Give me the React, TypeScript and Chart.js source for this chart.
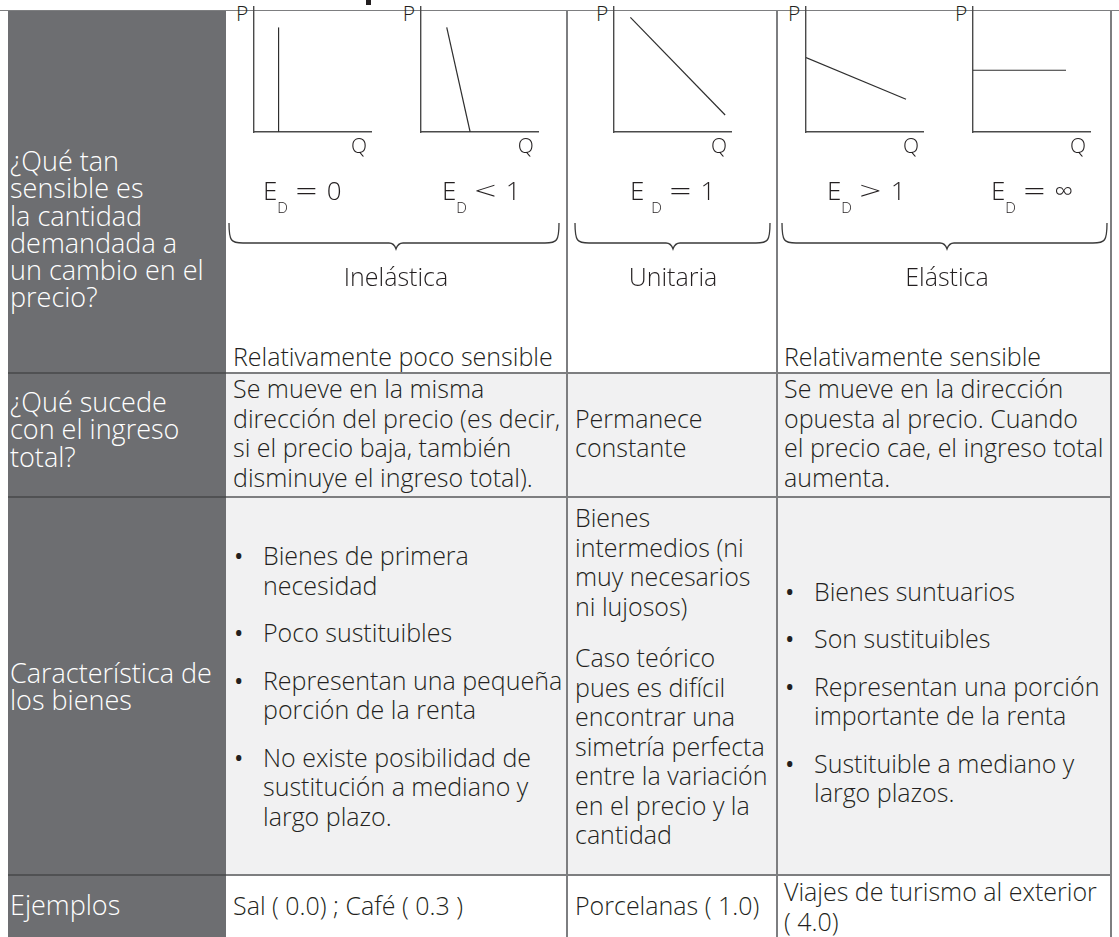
import React, { useEffect, useRef } from "react";
import { Chart, registerables } from "chart.js";

Chart.register(...registerables);

type Pt = { x: number; y: number };

// ---------------- DATA ----------------
// demand curves (P on y, Q on x), axis range 0..10
const curvaEd0: Pt[] = [{ x: 2.1, y: 0 }, { x: 2.1, y: 8.3 }];
const curvaEdMenor1: Pt[] = [{ x: 2.2, y: 8.3 }, { x: 4.2, y: 0 }];
const curvaEd1: Pt[] = [{ x: 1.4, y: 9.1 }, { x: 9.5, y: 1.35 }];
const curvaEdMayor1: Pt[] = [{ x: 0, y: 5.9 }, { x: 8.55, y: 2.6 }];
const curvaEdInf: Pt[] = [{ x: 0, y: 4.9 }, { x: 7.95, y: 4.9 }];
const curvas: Pt[][] = [curvaEd0, curvaEdMenor1, curvaEd1, curvaEdMayor1, curvaEdInf];

const ejeP = "P";
const ejeQ = "Q";
const operadores = ["=", "<", "=", ">", "="];
const valoresEd = ["0", "1", "1", "1", "\u221E"];

const categorias = ["Inelástica", "Unitaria", "Elástica"];
const sensibilidad = ["Relativamente poco sensible", "", "Relativamente sensible"];

const encabezados: string[][] = [
  ["¿Qué tan", "sensible es", "la cantidad", "demandada a", "un cambio en el", "precio?"],
  ["¿Qué sucede", "con el ingreso", "total?"],
  ["Característica de", "los bienes"],
  ["Ejemplos"],
];

const ingresoInelastica = [
  "Se mueve en la misma",
  "dirección del precio (es decir,",
  "si el precio baja, también",
  "disminuye el ingreso total).",
];
const ingresoUnitaria = ["Permanece", "constante"];
const ingresoElastica = [
  "Se mueve en la dirección",
  "opuesta al precio. Cuando",
  "el precio cae, el ingreso total",
  "aumenta.",
];

const bienesInelasticos: string[][] = [
  ["Bienes de primera", "necesidad"],
  ["Poco sustituibles"],
  ["Representan una pequeña", "porción de la renta"],
  ["No existe posibilidad de", "sustitución a mediano y", "largo plazo."],
];
const bienesUnitarios: string[][] = [
  ["Bienes", "intermedios (ni", "muy necesarios", "ni lujosos)"],
  ["Caso teórico", "pues es difícil", "encontrar una", "simetría perfecta", "entre la variación", "en el precio y la", "cantidad"],
];
const bienesElasticos: string[][] = [
  ["Bienes suntuarios"],
  ["Son sustituibles"],
  ["Representan una porción", "importante de la renta"],
  ["Sustituible a mediano y", "largo plazos."],
];

const ejemplosInelastica = ["Sal ( 0.0) ; Café ( 0.3 )"];
const ejemplosUnitaria = ["Porcelanas ( 1.0)"];
const ejemplosElastica = ["Viajes de turismo al exterior", "( 4.0)"];

// ---------------- STYLE / LAYOUT ----------------
const FONT = "'Open Sans', 'Noto Sans', sans-serif";
const WEIGHT = 300;
const TEXT = "#231f20";
const DARK = "#6d6e71";
const LIGHT = "#f1f1f2";
const RULE = "#7d7e80";
const FS = 25;
const LH = 29.5;
const HFS = 27;

const axisX = [254, 420.7, 614, 806, 973];
const edStartX = [266, 445, 633, 830, 994];
const edGap = [false, false, true, false, false];
const AXIS_TOP = 6;
const AXIS_BOTTOM = 132;
const AXIS_LEN = 117;

const braces = [
  { x1: 229, x2: 559, cx: 396 },
  { x1: 575, x2: 770, cx: 673 },
  { x1: 782, x2: 1107, cx: 947 },
];

const colText = [233, 575, 784];
const colBounds = [226, 567, 777, 1111];
const rowLines = [373, 497, 875];

function MiniDemand({ data, x0 }: { data: Pt[]; x0: number }) {
  const ref = useRef<HTMLCanvasElement>(null);
  const pad = 2;
  const w = AXIS_LEN + pad * 2;
  const h = AXIS_BOTTOM - AXIS_TOP + pad;
  useEffect(() => {
    if (!ref.current) return;
    const chart = new Chart(ref.current, {
      type: "scatter",
      data: {
        datasets: [
          {
            data,
            showLine: true,
            borderColor: "#2e2e2e",
            borderWidth: 1.2,
            pointRadius: 0,
            fill: false,
          },
        ],
      },
      options: {
        animation: false,
        responsive: false,
        maintainAspectRatio: false,
        events: [],
        layout: { padding: { left: pad, right: pad, top: 0, bottom: pad } },
        plugins: { legend: { display: false }, tooltip: { enabled: false }, title: { display: false } },
        scales: {
          x: {
            type: "linear",
            min: 0,
            max: 10,
            grid: { display: false, drawTicks: false },
            ticks: { display: false },
            border: { display: true, color: "#4a4a4a", width: 1.4 },
          },
          y: {
            type: "linear",
            min: 0,
            max: 10,
            grid: { display: false, drawTicks: false },
            ticks: { display: false },
            border: { display: true, color: "#4a4a4a", width: 1.4 },
          },
        },
      },
    });
    return () => chart.destroy();
  }, [data]);
  return (
    <canvas
      ref={ref}
      width={w}
      height={h}
      style={{ position: "absolute", left: x0 - pad, top: AXIS_TOP, width: w, height: h }}
    />
  );
}

function Lines({ lines, left, top, color = TEXT, size = FS, lh = LH }: { lines: string[]; left: number; top: number; color?: string; size?: number; lh?: number }) {
  return (
    <div style={{ position: "absolute", left, top, color, fontSize: size, lineHeight: `${lh}px`, whiteSpace: "nowrap" }}>
      {lines.map((l, i) => (
        <div key={i}>{l}</div>
      ))}
    </div>
  );
}

function Bullets({ items, left, top, height, gap }: { items: string[][]; left: number; top: number; height: number; gap: number }) {
  return (
    <div
      style={{
        position: "absolute",
        left,
        top,
        height,
        display: "flex",
        flexDirection: "column",
        justifyContent: "center",
        gap,
        color: TEXT,
        fontSize: FS,
        lineHeight: `${LH}px`,
        whiteSpace: "nowrap",
      }}
    >
      {items.map((it, i) => (
        <div key={i} style={{ position: "relative", paddingLeft: 30 }}>
          <span style={{ position: "absolute", left: 1, top: 0, fontWeight: 400 }}>•</span>
          {it.map((l, j) => (
            <div key={j}>{l}</div>
          ))}
        </div>
      ))}
    </div>
  );
}

function Paragraphs({ items, left, top, gap }: { items: string[][]; left: number; top: number; gap: number }) {
  return (
    <div style={{ position: "absolute", left, top, display: "flex", flexDirection: "column", gap, color: TEXT, fontSize: FS, lineHeight: `${LH}px`, whiteSpace: "nowrap" }}>
      {items.map((it, i) => (
        <div key={i}>
          {it.map((l, j) => (
            <div key={j}>{l}</div>
          ))}
        </div>
      ))}
    </div>
  );
}

function bracePath(x1: number, x2: number, cx: number) {
  const yt = 223;
  const yb = 243;
  const tip = 249;
  return [
    `M ${x1} ${yt}`,
    `C ${x1} ${yb - 2} ${x1 + 2} ${yb} ${x1 + 14} ${yb}`,
    `L ${cx - 7} ${yb}`,
    `Q ${cx - 2} ${yb} ${cx} ${tip}`,
    `Q ${cx + 2} ${yb} ${cx + 7} ${yb}`,
    `L ${x2 - 14} ${yb}`,
    `C ${x2 - 2} ${yb} ${x2} ${yb - 2} ${x2} ${yt}`,
  ].join(" ");
}

export default function App() {
  return (
    <div
      style={{
        position: "absolute",
        left: 0,
        top: 0,
        width: 1119,
        height: 937,
        overflow: "hidden",
        background: "#ffffff",
        fontFamily: FONT,
        fontWeight: WEIGHT,
      }}
    >
      {/* backgrounds */}
      <div style={{ position: "absolute", left: 8, top: 10, width: 218, height: 960, background: DARK }} />
      <div style={{ position: "absolute", left: 226, top: rowLines[0], width: 885, height: rowLines[2] - rowLines[0], background: LIGHT }} />

      {/* title fragment */}
      <div style={{ position: "absolute", left: 366, top: 0, width: 5, height: 5, background: TEXT }} />

      {/* rules */}
      <div style={{ position: "absolute", left: 0, top: 9.5, width: 1119, height: 1.5, background: RULE }} />
      {rowLines.map((y, i) => (
        <React.Fragment key={i}>
          <div style={{ position: "absolute", left: 8, top: y - 0.75, width: 218, height: 1.5, background: "#505153" }} />
          <div style={{ position: "absolute", left: 226, top: y - 0.75, width: 885, height: 1.5, background: RULE }} />
        </React.Fragment>
      ))}
      {colBounds.slice(1).map((x, i) => (
        <div key={i} style={{ position: "absolute", left: x - 0.75, top: 10, width: 1.5, height: 940, background: RULE }} />
      ))}

      {/* header column */}
      <Lines lines={encabezados[0]} left={10} top={147} color="#ffffff" size={HFS} lh={27.3} />
      <Lines lines={encabezados[1]} left={10} top={388} color="#ffffff" size={HFS} lh={27.3} />
      <Lines lines={encabezados[2]} left={10} top={659} color="#ffffff" size={HFS} lh={27.3} />
      <Lines lines={encabezados[3]} left={10} top={891} color="#ffffff" size={HFS} lh={27.3} />

      {/* demand diagrams */}
      {curvas.map((c, i) => (
        <MiniDemand key={i} data={c} x0={axisX[i]} />
      ))}
      {axisX.map((x0, i) => (
        <React.Fragment key={i}>
          <div style={{ position: "absolute", left: x0 - 18, top: 3, fontSize: 21, lineHeight: "21px", color: TEXT }}>{ejeP}</div>
          <div style={{ position: "absolute", left: x0 + AXIS_LEN - 20, top: 135, fontSize: 21, lineHeight: "21px", color: TEXT }}>{ejeQ}</div>
          <div
            style={{
              position: "absolute",
              left: edStartX[i] - 3,
              top: 177,
              fontSize: 26,
              lineHeight: "26px",
              color: TEXT,
              whiteSpace: "nowrap",
            }}
          >
            E{edGap[i] ? "\u00a0" : ""}
            <span style={{ fontSize: 15, lineHeight: "15px", verticalAlign: -13 }}>D</span>
            <span style={{ display: "inline-block", transform: "scaleX(1.5)", margin: "0 13px 0 11px" }}>{operadores[i]}</span>
            {valoresEd[i]}
          </div>
        </React.Fragment>
      ))}

      {/* braces */}
      <svg style={{ position: "absolute", left: 0, top: 0 }} width={1119} height={300}>
        {braces.map((b, i) => (
          <path key={i} d={bracePath(b.x1, b.x2, b.cx)} fill="none" stroke="#3a3a3a" strokeWidth={1.3} />
        ))}
      </svg>

      {categorias.map((c, i) => (
        <div
          key={i}
          style={{ position: "absolute", left: braces[i].cx - 100, width: 200, top: 262, textAlign: "center", fontSize: FS, lineHeight: `${LH}px`, color: TEXT }}
        >
          {c}
        </div>
      ))}
      {sensibilidad.map((s, i) => (s ? <Lines key={i} lines={[s]} left={colText[i]} top={342} /> : null))}

      {/* row 2 */}
      <Lines lines={ingresoInelastica} left={colText[0]} top={374} />
      <Lines lines={ingresoUnitaria} left={colText[1]} top={403.5} />
      <Lines lines={ingresoElastica} left={colText[2]} top={374} />

      {/* row 3 */}
      <Bullets items={bienesInelasticos} left={colText[0]} top={rowLines[1]} height={rowLines[2] - rowLines[1]} gap={18} />
      <Paragraphs items={bienesUnitarios} left={colText[1]} top={503} gap={22} />
      <Bullets items={bienesElasticos} left={colText[2]} top={rowLines[1] + 6} height={rowLines[2] - rowLines[1]} gap={18} />

      {/* row 4 */}
      <Lines lines={ejemplosInelastica} left={colText[0]} top={891} />
      <Lines lines={ejemplosUnitaria} left={colText[1]} top={891} />
      <Lines lines={ejemplosElastica} left={colText[2]} top={877} />
    </div>
  );
}
